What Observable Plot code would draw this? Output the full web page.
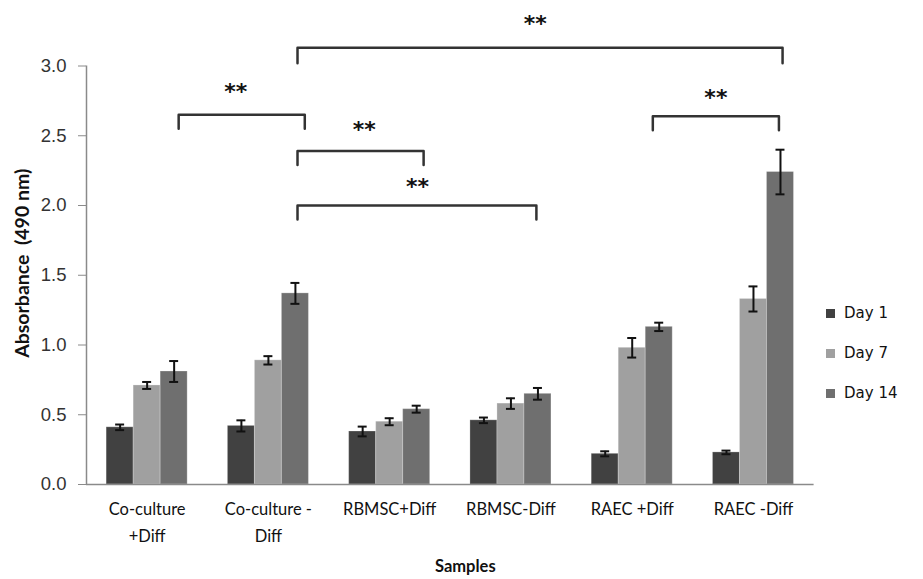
<!DOCTYPE html>
<html><head><meta charset="utf-8">
<script src="https://cdn.jsdelivr.net/npm/d3@7"></script>
<script src="https://cdn.jsdelivr.net/npm/@observablehq/plot@0.6"></script>
<style>
body{margin:0;background:#fff;}
#wrap{position:relative;width:923px;height:579px;}
#legend{position:absolute;left:0;top:0;font-family:"DejaVu Sans",sans-serif;font-size:15px;color:#111;}
.item{position:absolute;display:flex;align-items:center;white-space:nowrap;height:18px;}
.sw{width:9px;height:9px;margin-right:9px;}
</style></head><body><div id="wrap"></div>
<script>
// ---- data ----
const groups = ["Co-culture\n+Diff", "Co-culture -\nDiff", "RBMSC+Diff", "RBMSC-Diff", "RAEC +Diff", "RAEC -Diff"];
const days = ["Day 1", "Day 7", "Day 14"];
const day1 = [0.41, 0.42, 0.38, 0.46, 0.22, 0.23];
const day7 = [0.71, 0.89, 0.45, 0.58, 0.98, 1.33];
const day14 = [0.81, 1.37, 0.54, 0.65, 1.13, 2.24];
const err1 = [0.02, 0.04, 0.035, 0.02, 0.018, 0.013];
const err7 = [0.025, 0.03, 0.025, 0.038, 0.07, 0.09];
const err14 = [0.075, 0.075, 0.025, 0.042, 0.03, 0.16];
const yTicks = [0, 0.5, 1.0, 1.5, 2.0, 2.5, 3.0];
const dayColors = ["#414141", "#a0a0a0", "#6f6f6f"];
// significance brackets (x in group units, y in absorbance units)
const brFrom = [0.76, 1.74, 1.74, 1.74, 4.67];
const brTo = [1.80, 5.74, 2.78, 3.71, 5.71];
const brTop = [2.65, 3.13, 2.39, 2.00, 2.64];
const brFoot = [2.55, 3.02, 2.29, 1.90, 2.54];
const starX = [1.23, 3.70, 2.29, 2.73, 5.19];
const starY = [2.84, 3.33, 2.57, 2.16, 2.80];
const starText = ["**", "**", "**", "**", "**"];

// ---- build tables ----
const values = [day1, day7, day14];
const errs = [err1, err7, err14];
const rows = [];
groups.forEach((g, i) => days.forEach((d, j) => rows.push({gi: i, di: j, day: d, value: values[j][i], err: errs[j][i]})));
const pad = 0.166, bw = 0.2227, cap = 0.037;
const x1 = r => r.gi + pad + r.di * bw;
const xc = r => x1(r) + bw / 2;
const brPts = [];
brFrom.forEach((a, k) => {
  brPts.push({k, x: a, y: brFoot[k]}, {k, x: a, y: brTop[k]}, {k, x: brTo[k], y: brTop[k]}, {k, x: brTo[k], y: brFoot[k]});
});
const stars = starX.map((x, k) => ({x, y: starY[k], t: starText[k]}));

const chart = Plot.plot({
  width: 923, height: 579,
  marginLeft: 86, marginRight: 109.4, marginTop: 65.5, marginBottom: 95,
  style: {fontFamily: "'Liberation Sans', Arial, sans-serif", background: "#fff"},
  x: {domain: [0, 6]},
  y: {domain: [0, 3]},
  color: {domain: days, range: dayColors},
  marks: [
    Plot.rectY(rows, {x1: x1, x2: r => x1(r) + bw, y: "value", fill: "day", stroke: "#ffffff", strokeOpacity: 0.25, strokeWidth: 1}),
    Plot.ruleX(rows, {x: xc, y1: r => r.value - r.err, y2: r => r.value + r.err, stroke: "#111", strokeWidth: 2}),
    Plot.ruleY(rows, {y: r => r.value + r.err, x1: r => xc(r) - cap, x2: r => xc(r) + cap, stroke: "#111", strokeWidth: 2}),
    Plot.ruleY(rows, {y: r => r.value - r.err, x1: r => xc(r) - cap, x2: r => xc(r) + cap, stroke: "#111", strokeWidth: 2}),
    Plot.ruleY([0], {stroke: "#8a8a8a", strokeWidth: 1.5}),
    Plot.ruleX([0], {y1: 0, y2: 3, stroke: "#8a8a8a", strokeWidth: 1.5}),
    Plot.axisY({ticks: yTicks, tickFormat: d3.format(".1f"), tickSize: 8, tickPadding: 12, fontSize: 18.5, stroke: "#8a8a8a", fill: "#333", label: null}),
    Plot.axisX({ticks: groups.map((g, i) => i + 0.5), tickFormat: d => groups[Math.floor(d)], tickSize: 0, tickPadding: 12, fontSize: 16.5, fontFamily: "Lato", lineHeight: 1.6, fill: "#111", label: null}),
    Plot.text(["Absorbance  (490 nm)"], {frameAnchor: "left", textAnchor: "middle", rotate: -90, dx: -64, dy: -12, fontWeight: "bold", fontSize: 19.5, fontFamily: "Lato", fill: "#111"}),
    Plot.text(["Samples"], {frameAnchor: "bottom", dx: 15, dy: 87, fontWeight: "bold", fontSize: 16.5, fontFamily: "Lato", fill: "#111"}),
    Plot.line(brPts, {x: "x", y: "y", z: "k", stroke: "#333", strokeWidth: 2.5, strokeLinejoin: "round"}),
    Plot.text(stars, {x: "x", y: "y", text: "t", fontSize: 22, fontWeight: "bold", fontFamily: "DejaVu Sans", fill: "#111", dy: 4})
  ]
});
const wrap = document.getElementById("wrap");
wrap.appendChild(chart);
const legend = document.createElement("div");
legend.id = "legend";
days.forEach((d, j) => {
  const it = document.createElement("div");
  it.className = "item";
  it.style.left = "826px";
  it.style.top = (304 + j * 40) + "px";
  const sw = document.createElement("span");
  sw.className = "sw";
  sw.style.background = dayColors[j];
  const tx = document.createElement("span");
  tx.textContent = d;
  it.appendChild(sw); it.appendChild(tx);
  legend.appendChild(it);
});
wrap.appendChild(legend);
</script>
</body></html>
